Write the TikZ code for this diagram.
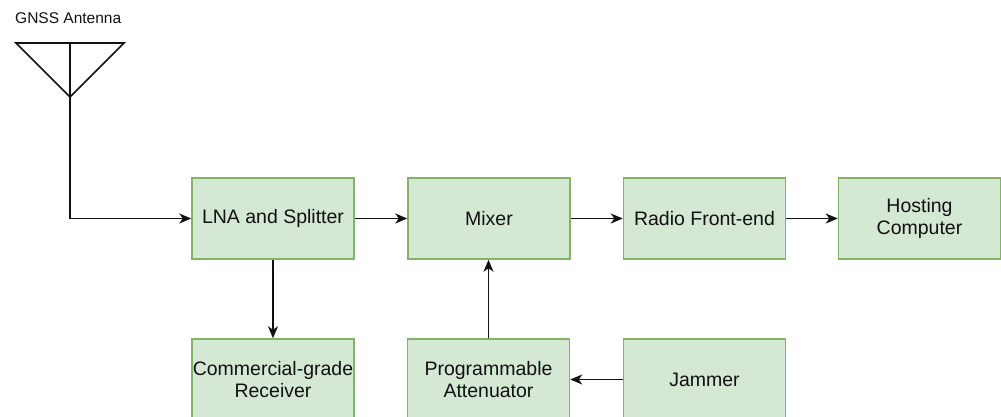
\documentclass[tikz,border=0pt]{standalone}
\usepackage{fontspec}
\setmainfont{Liberation Sans}
\usetikzlibrary{arrows.meta}
\definecolor{boxfill}{HTML}{D5E8D4}
\definecolor{boxdraw}{HTML}{82B366}
\definecolor{ink}{HTML}{111111}
\tikzset{
  blk/.style={draw=boxdraw, fill=boxfill, line width=1.5pt, minimum width=162pt, minimum height=81pt, inner sep=0pt, align=center, font=\fontsize{19.5}{22}\selectfont, text=ink},
  conn/.style={draw=ink, line width=1.6pt, -{Stealth[length=12pt,width=10pt,inset=3.5pt]}},
  ant/.style={draw=ink, line width=1.6pt}
}
\begin{document}
\begin{tikzpicture}[x=1pt,y=-1pt]
\useasboundingbox (0,0) rectangle (1001,416);
\node[font=\fontsize{15.5}{18}\selectfont, text=ink, anchor=west, inner sep=0pt] (lbl) at (15,18.5) {GNSS Antenna};
\coordinate (tl) at (16,43);
\coordinate (tr) at (124,43);
\coordinate (tm) at (70,43);
\coordinate (apex) at (70,97);
\draw[ant, line join=miter] (tl) -- (tr) -- (apex) -- cycle;
\draw[ant] (tm) -- (apex);
\node[blk] (lna) at (273,218.5) {LNA and Splitter};
\node[blk] (mix) at (489,218.5) {Mixer};
\node[blk] (rfe) at (704.5,218.5) {Radio Front-end};
\node[blk] (host) at (919.5,218.5) {Hosting\\Computer};
\node[blk] (rcv) at (273,379.5) {Commercial-grade\\Receiver};
\node[blk] (att) at (488.5,379.5) {Programmable\\Attenuator};
\node[blk] (jam) at (704.5,379.5) {Jammer};
\draw[conn] (apex) |- (lna.west);
\draw[conn] (lna.east) -- (mix.west);
\draw[conn] (mix.east) -- (rfe.west);
\draw[conn] (rfe.east) -- (host.west);
\draw[conn] (lna.south) -- (rcv.north);
\draw[conn] (att.north) -- (att.north |- mix.south);
\draw[conn] (jam.west) -- (att.east);
\end{tikzpicture}
\end{document}
